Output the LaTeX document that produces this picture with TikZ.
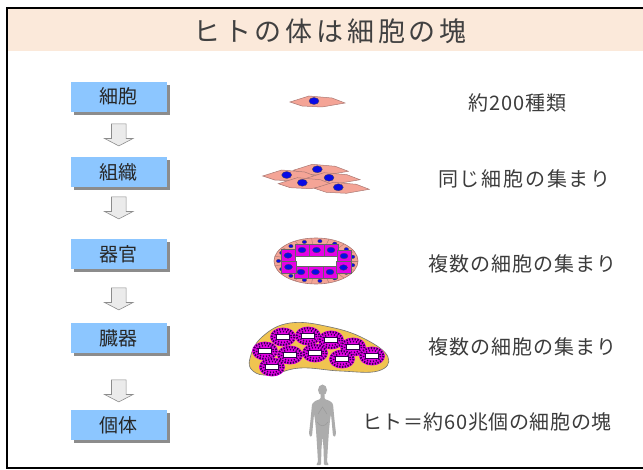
\documentclass[tikz,border=0pt]{standalone}
\usepackage{fontspec}
\setmainfont{Noto Sans CJK JP}
\usetikzlibrary{shapes.arrows,shadows}

\definecolor{titlebg}{RGB}{251,233,218}
\definecolor{boxblue}{RGB}{140,198,255}
\definecolor{cellpink}{RGB}{244,164,150}
\definecolor{cellline}{RGB}{170,120,115}
\definecolor{nucblue}{RGB}{10,10,230}
\definecolor{glandmag}{RGB}{230,0,230}
\definecolor{glanddot}{RGB}{50,0,80}
\definecolor{organyellow}{RGB}{240,196,80}
\definecolor{textgray}{RGB}{60,60,60}
\definecolor{figgray}{RGB}{172,172,172}

\tikzset{
  stagebox/.style={fill=boxblue, minimum width=96pt, minimum height=30pt, inner sep=0pt,
    font=\fontsize{19}{19}\selectfont, text=black!85,
    drop shadow={shadow xshift=3pt, shadow yshift=-3pt, fill=black!45, opacity=1}},
  downarrow/.style={single arrow, shape border rotate=270, draw=black!45, fill=black!8,
    inner sep=7pt, minimum height=22pt, single arrow head extend=7pt,
    single arrow tip angle=125, line width=0.6pt},
  note/.style={anchor=west, inner sep=0pt, text=textgray},
  notefont/.style={font=\fontsize{20}{20}\selectfont\addfontfeature{LetterSpace=#1}},
  cellbody/.style={fill=cellpink, draw=cellline, line width=0.5pt},
  nucleus/.style={fill=nucblue, draw=black!70, line width=0.3pt},
  squarecell/.style={fill=glandmag, draw=black!60, line width=0.4pt},
  spindle/.pic={
    \filldraw[cellbody] (-24,1) -- (-5,-5) -- (18,-3) -- (31,2) -- (8,6) -- (-12,5) -- cycle;
    \filldraw[nucleus] (0,0) ellipse (5 and 3.5);
  },
  gland/.pic={
    \fill[glandmag] (0,0) ellipse (13 and 9.5);
    \draw[glanddot, line width=2pt, dash pattern=on 1.4pt off 1.4pt] (0,0) ellipse (11.5 and 8);
    \draw[glanddot, line width=1.6pt, dash pattern=on 1.2pt off 1.8pt] (0,0) ellipse (8.5 and 5.5);
    \filldraw[fill=white, draw=glanddot, line width=0.4pt] (-6.5,-2.6) rectangle (6.5,2.6);
  },
}

\begin{document}
\begin{tikzpicture}[x=1pt, y=-1pt]
  \useasboundingbox (0,0) rectangle (643,470);
  \fill[white] (0,0) rectangle (643,470);

  % title band and frame
  \fill[titlebg] (7,8) rectangle (643,51);
  \draw[line width=2.5pt] (643,8) -- (7,8) -- (7,468) -- (643,468);
  \node[font=\fontsize{27}{27}\selectfont\addfontfeature{LetterSpace=14}, text=black!75]
    (title) at (330,31) {ヒトの体は細胞の塊};

  % hierarchy of stages
  \node[stagebox] (cell)   at (118.7,96.7)  {細胞};
  \node[stagebox] (tissue) at (118.7,172)   {組織};
  \node[stagebox] (organ)  at (118.7,254.5) {器官};
  \node[stagebox] (system) at (118.7,338)   {臓器};
  \node[stagebox] (body)   at (118.7,425)   {個体};

  \node[downarrow] (a1) at (118.8,133) {};
  \node[downarrow] (a2) at (118.8,206) {};
  \node[downarrow] (a3) at (118.8,297) {};
  \node[downarrow] (a4) at (118.8,389) {};

  % single cell
  \pic at (314,101) {spindle};

  % tissue: a sheet of the same cells
  \pic at (317.3,169.3) {spindle};
  \pic at (286.7,175)   {spindle};
  \pic at (329,177.7)   {spindle};
  \pic at (302.3,182.7) {spindle};
  \pic at (338.3,187.3) {spindle};

  % organ: ring of cells round a lumen
  \filldraw[fill=cellpink, draw=cellline, line width=0.6pt] (316,261) ellipse (42 and 23);
  \foreach \a in {0,24,...,359}
    \draw[cellline, line width=0.4pt] (316,261) ++(\a:30 and 15) -- ++(\a:12 and 8);
  \foreach \a in {12,36,...,371}
    \filldraw[nucleus] (316,261) ++(\a:37.5 and 20) ellipse (2.2 and 1.7);
  \fill[white] (295,256) rectangle (339,266);
  \foreach \cx/\cy in {302/250,316.5/250,331/250,301/272,315.5/272,330/272,288/255.5,288.5/267,344/256,343.5/267.5}{
    \filldraw[squarecell] (\cx-7.2,\cy-6) rectangle (\cx+7.2,\cy+6);
    \filldraw[nucleus] (\cx,\cy) ellipse (4 and 2.8);
  }

  % organ system: many glands in a common body
  \filldraw[fill=organyellow, draw=black!55, line width=0.6pt]
    plot[smooth cycle, tension=0.7] coordinates {(250,358) (262,337) (290,323) (330,327)
      (365,339) (388,357) (378,371) (340,371) (300,368) (270,375) (253,371)};
  \foreach \gx/\gy in {283/337,308/336,331/340,353/347,372/356,265/351,290/355,315/353,342/359,272/367}
    \pic at (\gx,\gy) {gland};

  % human figure
  \fill[figgray] (322.5,390) ellipse (4.5 and 5.5);
  \fill[figgray, rounded corners=1pt]
    (320.5,394) -- (320.5,399) -- (315,401) -- (312,404) -- (311,415) -- (310,425) -- (309,433)
    -- (310,437) -- (312,436) -- (313,425) -- (314,414) -- (315,420) -- (316,430) -- (317,445)
    -- (318,462) -- (316,465) -- (321,465) -- (321.5,448) -- (322.5,436) -- (323.5,448)
    -- (324,465) -- (329,465) -- (327,462) -- (328,445) -- (329,430) -- (330,420) -- (331,414)
    -- (332,425) -- (333,436) -- (335,437) -- (336,433) -- (335,425) -- (334,415) -- (333,404)
    -- (330,401) -- (324.5,399) -- (324.5,394) -- cycle;
  \draw[black!40, line width=0.5pt] (318,414) -- (322.5,407) -- (327,414);
  \draw[black!40, line width=0.5pt] (317,422) .. controls (320,427) and (325,427) .. (328,422);

  % descriptions
  \node[note, notefont=5] (n1) at (468,103) {約200種類};
  \node[note, notefont=9] (n2) at (438,179) {同じ細胞の集まり};
  \node[note, notefont=5] (n3) at (428,264) {複数の細胞の集まり};
  \node[note, notefont=5] (n4) at (428,347) {複数の細胞の集まり};
  \node[note, notefont=3] (n5) at (362,422) {ヒト＝約60兆個の細胞の塊};
\end{tikzpicture}
\end{document}
